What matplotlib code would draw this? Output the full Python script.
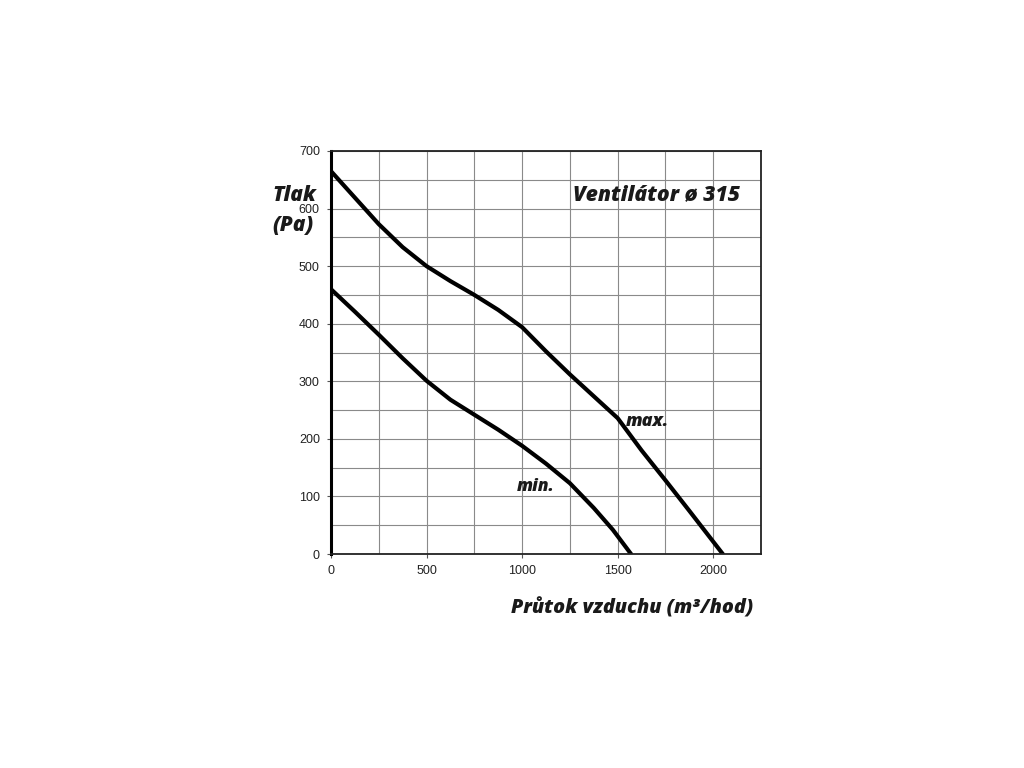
import numpy as np
import matplotlib.pyplot as plt

# fan curves (airflow m3/h -> pressure Pa)
max_flow = [0, 125, 250, 375, 500, 625, 750, 875, 1000, 1125, 1250, 1375, 1500, 1625, 1750, 1875, 2050]
max_pressure = [665, 619, 573, 533, 500, 474, 450, 424, 394, 352, 312, 274, 236, 180, 128, 75, 0]

min_flow = [0, 125, 250, 375, 500, 625, 750, 875, 1000, 1125, 1250, 1375, 1475, 1570]
min_pressure = [460, 421, 381, 340, 301, 268, 242, 216, 188, 157, 123, 80, 42, 0]

x_ticks = [0, 500, 1000, 1500, 2000]
y_ticks = [0, 100, 200, 300, 400, 500, 600, 700]

title_font = dict(family=['Open Sans', 'DejaVu Sans'], weight='heavy', style='italic', color='#1a1a1a')

fig = plt.figure(figsize=(10.24, 7.68), dpi=100)
ax = fig.add_axes([0.3232, 0.2786, 0.42, 0.5248])

ax.plot(max_flow, max_pressure, color='black', lw=3, solid_capstyle='round', solid_joinstyle='round')
ax.plot(min_flow, min_pressure, color='black', lw=3, solid_capstyle='round', solid_joinstyle='round')

ax.set_xlim(0, 2250)
ax.set_ylim(0, 700)
ax.set_xticks(x_ticks)
ax.set_yticks(y_ticks)
ax.set_xticks(np.arange(0, 2251, 250), minor=True)
ax.set_yticks(np.arange(0, 701, 50), minor=True)
ax.grid(which='both', color='#8a8a8a', lw=0.8)
ax.set_axisbelow(True)

ax.tick_params(which='major', length=3, width=0.8, color='#555555', labelsize=9,
               labelcolor='#222222', pad=5)
ax.tick_params(which='minor', length=0)
for lab in ax.get_xticklabels() + ax.get_yticklabels():
    lab.set_family(['Liberation Sans', 'DejaVu Sans'])

for side in ['top', 'right', 'bottom']:
    ax.spines[side].set_linewidth(1.3)
    ax.spines[side].set_color('#222222')
ax.spines['left'].set_linewidth(2.2)
ax.spines['left'].set_color('black')

ax.text(1265, 624, 'Ventilátor ø 315', fontsize=15.2, va='center', ha='left', **title_font)
ax.text(1545, 231, 'max.', fontsize=13, va='center', ha='left', **title_font)
ax.text(974, 118, 'min.', fontsize=12.5, va='center', ha='left', **title_font)

# axis title sits over the 600 label, as in the original
fig.text(0.2665, 0.745, 'Tlak', fontsize=15, ha='left', va='center', **title_font)
fig.text(0.2655, 0.706, '(Pa)', fontsize=15, ha='left', va='center', **title_font)
fig.text(0.735, 0.208, 'Průtok vzduchu (m³/hod)', fontsize=14.2, ha='right', va='center', **title_font)

plt.savefig('out.png', dpi=100)
